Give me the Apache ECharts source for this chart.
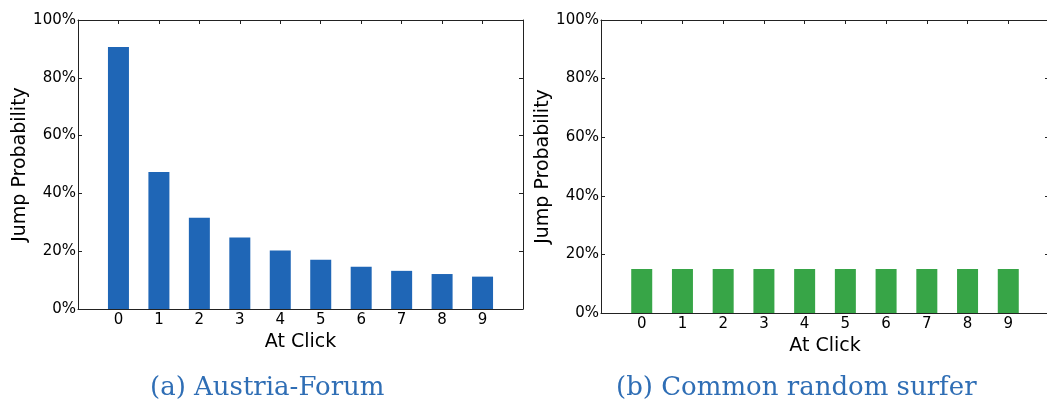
<!DOCTYPE html>
<html>
<head>
<meta charset="utf-8">
<script src="https://cdn.jsdelivr.net/npm/echarts@6/dist/echarts.min.js"></script>
<style>html,body{margin:0;padding:0;background:#fff}#c{width:1047px;height:403px}</style>
</head>
<body>
<div id="c"></div>
<script>
const clicks = [0, 1, 2, 3, 4, 5, 6, 7, 8, 9];
const austriaForum = [90.7, 47.4, 31.6, 24.7, 20.2, 17.0, 14.6, 13.2, 12.1, 11.2];
const randomSurfer = [15.0, 15.0, 15.0, 15.0, 15.0, 15.0, 15.0, 15.0, 15.0, 15.0];
const yTicks = [0, 20, 40, 60, 80, 100];
const captions = ['(a) Austria-Forum', '(b) Common random surfer'];

const tickFont = { fontFamily: 'DejaVu Sans', fontSize: 15, color: '#000' };
const nameFont = { fontFamily: 'DejaVu Sans', fontSize: 19, color: '#000' };
const lineCol = '#222';

function xAxes(gi) {
  return [
    {
      type: 'value', gridIndex: gi, min: -1, max: 10, interval: 1, position: 'bottom',
      name: 'At Click', nameLocation: 'middle', nameGap: 23, nameTextStyle: nameFont,
      axisLine: { show: true, onZero: false, lineStyle: { color: lineCol, width: 1 } },
      axisTick: { show: true, inside: true, length: 4, lineStyle: { color: lineCol } },
      axisLabel: Object.assign({ margin: 4, formatter: v => clicks.indexOf(v) >= 0 ? String(v) : '' }, tickFont),
      splitLine: { show: false }
    },
    {
      type: 'value', gridIndex: gi, min: -1, max: 10, interval: 1, position: 'top',
      axisLine: { show: true, onZero: false, lineStyle: { color: lineCol, width: 1 } },
      axisTick: { show: true, inside: true, length: 4, lineStyle: { color: lineCol } },
      axisLabel: { show: false }, splitLine: { show: false }
    }
  ];
}
function yAxes(gi) {
  return [
    {
      type: 'value', gridIndex: gi, min: yTicks[0], max: yTicks[yTicks.length - 1], interval: 20, position: 'left',
      name: 'Jump Probability', nameLocation: 'middle', nameGap: 48, nameTextStyle: nameFont,
      axisLine: { show: true, onZero: false, lineStyle: { color: lineCol, width: 1 } },
      axisTick: { show: true, inside: true, length: 4, lineStyle: { color: lineCol } },
      axisLabel: Object.assign({ margin: 2, formatter: v => v + '%' }, tickFont),
      splitLine: { show: false }
    },
    {
      type: 'value', gridIndex: gi, min: yTicks[0], max: yTicks[yTicks.length - 1], interval: 20, position: 'right',
      axisLine: { show: true, onZero: false, lineStyle: { color: lineCol, width: 1 } },
      axisTick: { show: true, inside: true, length: 4, lineStyle: { color: lineCol } },
      axisLabel: { show: false }, splitLine: { show: false }
    }
  ];
}

const chart = echarts.init(document.getElementById('c'), null, { renderer: 'canvas' });
chart.setOption({
  animation: false,
  backgroundColor: '#fff',
  grid: [
    { left: 78, top: 20, width: 445, height: 289, outerBoundsMode: 'none', containLabel: false },
    { left: 601, top: 20, width: 448, height: 293, outerBoundsMode: 'none', containLabel: false }
  ],
  xAxis: [...xAxes(0), ...xAxes(1)],
  yAxis: [...yAxes(0), ...yAxes(1)],
  series: [
    {
      type: 'bar', xAxisIndex: 0, yAxisIndex: 0, barWidth: 21,
      itemStyle: { color: '#1f66b6' },
      data: clicks.map((c, i) => [c, austriaForum[i]])
    },
    {
      type: 'bar', xAxisIndex: 2, yAxisIndex: 2, barWidth: 21,
      itemStyle: { color: '#37a547' },
      data: clicks.map((c, i) => [c, randomSurfer[i]])
    }
  ],
  graphic: [
    { type: 'text', left: 150, top: 375, style: { text: captions[0], fill: '#2f6eb5', font: '26px "DejaVu Serif"' } },
    { type: 'text', left: 616, top: 375, style: { text: captions[1], fill: '#2f6eb5', font: '26px "DejaVu Serif"' } }
  ]
});
</script>
</body>
</html>
